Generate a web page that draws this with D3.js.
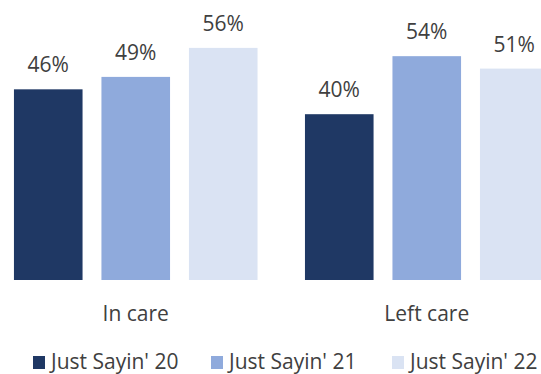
<!DOCTYPE html>
<html>
<head>
<meta charset="utf-8">
<script src="https://cdn.jsdelivr.net/npm/d3@7"></script>
<style>
  html, body { margin: 0; padding: 0; background: #fff; }
  svg { display: block; }
</style>
</head>
<body>
<div id="chart"></div>
<script>
// data
const categories = ["In care", "Left care"];
const seriesNames = ["Just Sayin' 20", "Just Sayin' 21", "Just Sayin' 22"];
const values20 = [46, 40];
const values21 = [49, 54];
const values22 = [56, 51];
const seriesColors = ["#1f3864", "#8faadc", "#dae3f3"];

const width = 541, height = 374;
const font = "'Open Sans', sans-serif";
const textColor = "#404040";

const svg = d3.select("#chart").append("svg")
  .attr("width", width)
  .attr("height", height);

const seriesValues = [values20, values21, values22];

// scales
const x0 = d3.scaleBand()
  .domain(categories)
  .range([4.5, 558])
  .paddingInner(0.098);

const x1 = d3.scaleBand()
  .domain(seriesNames)
  .range([0, x0.bandwidth()])
  .paddingInner(0.216)
  .paddingOuter(0.108);

const y = d3.scaleLinear()
  .domain([0, 60])
  .range([280, 31.3]);

const color = d3.scaleOrdinal().domain(seriesNames).range(seriesColors);

// bars
const groups = svg.append("g")
  .selectAll("g")
  .data(categories)
  .enter()
  .append("g")
  .attr("transform", d => "translate(" + x0(d) + ",0)");

groups.selectAll("rect")
  .data((c, i) => seriesNames.map((s, j) => ({ series: s, value: seriesValues[j][i] })))
  .enter()
  .append("rect")
  .attr("x", d => x1(d.series))
  .attr("y", d => y(d.value))
  .attr("width", x1.bandwidth())
  .attr("height", d => y(0) - y(d.value))
  .attr("fill", d => color(d.series));

// value labels
groups.selectAll("text")
  .data((c, i) => seriesNames.map((s, j) => ({ series: s, value: seriesValues[j][i] })))
  .enter()
  .append("text")
  .attr("x", d => x1(d.series) + x1.bandwidth() / 2)
  .attr("y", d => y(d.value) - 17)
  .attr("text-anchor", "middle")
  .style("font-family", font)
  .style("font-size", "21px")
  .style("fill", textColor)
  .text(d => d.value + "%");

// category axis labels
svg.append("g")
  .selectAll("text")
  .data(categories)
  .enter()
  .append("text")
  .attr("x", d => x0(d) + x0.bandwidth() / 2)
  .attr("y", 321)
  .attr("text-anchor", "middle")
  .style("font-family", font)
  .style("font-size", "21px")
  .style("fill", textColor)
  .text(d => d);

// legend (raised a little so the descenders stay inside the picture)
const legendX = [33, 211, 392];
const legend = svg.append("g")
  .selectAll("g")
  .data(seriesNames)
  .enter()
  .append("g")
  .attr("transform", (d, i) => "translate(" + legendX[i] + ",0)");

legend.append("rect")
  .attr("x", 0)
  .attr("y", 356)
  .attr("width", 12)
  .attr("height", 13)
  .attr("fill", d => color(d));

legend.append("text")
  .attr("x", 18)
  .attr("y", 369)
  .style("font-family", font)
  .style("font-size", "21px")
  .style("fill", textColor)
  .text(d => d);
</script>
</body>
</html>
